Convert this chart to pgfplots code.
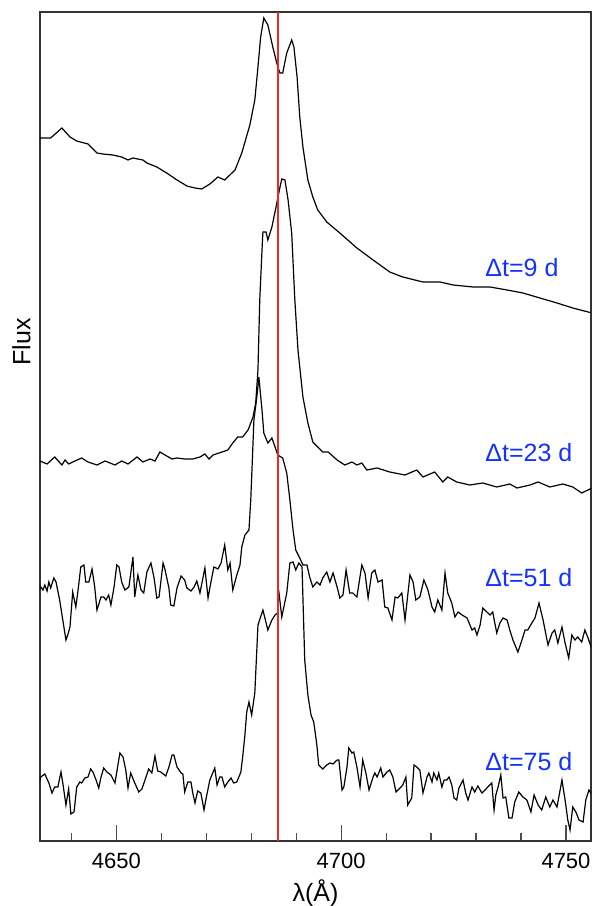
\documentclass[border=0pt]{standalone}
\usepackage{fontspec}
\setmainfont{Liberation Sans}
\usepackage{pgfplots}
\pgfplotsset{compat=1.18}
\definecolor{lblblue}{RGB}{20,50,250}
\definecolor{vline}{RGB}{235,40,40}
\begin{document}
\begin{tikzpicture}
\begin{axis}[
  at={(0,0)}, anchor=south west,
  scale only axis, width=275.5pt, height=414.5pt,
  xmin=4633.03, xmax=4755.56, ymin=0, ymax=829,
  xtick={4650,4700,4750},
  minor xtick={4640,4660,4670,4680,4690,4710,4720,4730,4740},
  ytick=\empty,
  tick pos=left, tick align=inside,
  major tick length=7.8pt, minor tick length=4pt,
  every tick/.style={black!70, line width=0.6pt},
  axis line style={black!80, line width=0.7pt},
  /pgf/number format/assume math mode=true,
  /pgf/number format/1000 sep={},
  xticklabel style={font=\fontsize{11}{13}\selectfont, anchor=base, yshift=-13.5pt},
  xlabel={λ(Å)}, ylabel={Flux},
  label style={font=\fontsize{12.5}{15}\selectfont},
  xlabel style={at={(axis description cs:0.5,0)}, anchor=base, yshift=-30.5pt},
  ylabel style={at={(axis description cs:0,0.602)}, anchor=base, yshift=4.8pt},
  clip=true,
]
% Delta t = 9 d
\addplot[black, line width=0.6pt] coordinates {
(4633.0,703)(4635.4,703)(4637.9,713)(4639.7,704)(4641.2,700)(4643.7,697)(4645.7,688)(4647.0,687)(4649.2,686)(4651.2,684)(4652.6,681)(4653.7,683)(4654.8,682)(4655.9,681)(4656.8,678)(4659.0,674)(4661.2,668)(4663.5,661)(4665.7,655)(4667.5,653)(4669.0,652)(4670.8,657)(4672.6,664)(4674.1,661)(4676.4,671)(4677.9,688)(4679.7,716)(4680.8,741)(4681.5,774)(4682.1,804)(4682.8,823)(4683.7,816)(4684.8,794)(4685.9,774)(4686.4,768)(4687.0,768)(4687.9,788)(4689.0,801)(4689.5,794)(4690.2,764)(4690.8,724)(4691.5,694)(4692.6,661)(4693.7,644)(4694.8,631)(4696.8,619)(4699.7,608)(4703.5,593)(4707.1,581)(4710.8,569)(4713.7,564)(4718.2,559)(4722.0,559)(4724.9,556)(4729.3,554)(4733.1,554)(4736.9,551)(4740.4,548)(4744.2,543)(4748.0,538)(4751.5,533)(4755.8,528)
};
% Delta t = 23 d
\addplot[black, line width=0.6pt] coordinates {
(4633.0,380)(4634.6,377)(4636.3,384)(4637.9,376)(4638.6,381)(4639.4,377)(4640.8,380)(4642.3,383)(4643.7,379)(4645.7,376)(4647.5,380)(4649.7,376)(4651.2,380)(4652.6,377)(4654.6,384)(4655.9,379)(4657.5,382)(4658.6,380)(4659.7,389)(4661.2,385)(4662.4,382)(4663.5,383)(4665.2,382)(4667.0,382)(4668.6,384)(4669.7,387)(4670.6,382)(4671.5,386)(4673.5,389)(4674.8,391)(4675.9,398)(4677.0,404)(4678.1,404)(4679.3,411)(4680.4,424)(4681.0,438)(4681.5,471)(4681.9,541)(4682.4,591)(4682.6,609)(4683.3,609)(4683.7,601)(4684.6,614)(4685.7,638)(4686.4,654)(4686.8,662)(4687.5,661)(4688.2,641)(4689.0,608)(4689.7,541)(4690.4,491)(4691.5,444)(4692.6,418)(4693.7,399)(4694.8,394)(4695.9,389)(4697.1,389)(4699.1,381)(4700.8,376)(4702.4,379)(4703.5,376)(4704.6,378)(4705.7,371)(4708.0,373)(4710.8,369)(4714.2,366)(4716.8,371)(4718.2,364)(4720.8,369)(4722.6,359)(4723.7,364)(4725.7,359)(4728.6,356)(4731.5,358)(4734.6,354)(4737.5,357)(4739.1,353)(4742.0,356)(4743.8,359)(4746.4,354)(4749.3,357)(4751.5,354)(4753.5,348)(4755.8,353)
};
% Delta t = 51 d
\addplot[black, line width=0.6pt] coordinates {
(4633.0,252)(4633.2,254)(4633.7,251)(4634.1,256)(4634.6,250)(4635.0,259)(4635.4,253)(4636.1,263)(4636.6,259)(4637.4,241)(4638.1,221)(4638.8,201)(4639.2,206)(4639.7,214)(4640.3,249)(4641.0,234)(4641.5,251)(4642.1,274)(4642.8,276)(4643.2,259)(4643.9,259)(4644.6,272)(4645.2,254)(4645.7,231)(4646.6,244)(4647.2,244)(4647.7,241)(4648.3,246)(4648.8,236)(4649.5,254)(4650.1,276)(4650.6,274)(4651.2,259)(4651.9,251)(4652.8,254)(4653.7,284)(4654.1,244)(4654.8,266)(4655.5,251)(4656.1,248)(4656.8,269)(4657.7,278)(4658.4,263)(4659.0,243)(4659.5,244)(4660.4,278)(4660.8,272)(4661.7,253)(4662.1,236)(4662.8,235)(4663.5,253)(4664.4,265)(4665.2,261)(4665.7,253)(4666.6,250)(4667.3,254)(4667.9,260)(4668.6,248)(4669.7,273)(4670.4,243)(4671.0,258)(4671.7,274)(4672.6,272)(4673.3,278)(4674.1,296)(4674.8,271)(4675.3,278)(4675.9,251)(4676.8,266)(4677.5,276)(4677.9,294)(4678.6,306)(4679.5,311)(4679.9,341)(4680.6,421)(4681.3,446)(4681.7,464)(4682.4,431)(4682.8,408)(4683.7,398)(4684.6,403)(4685.3,394)(4685.9,386)(4687.0,383)(4687.9,368)(4688.6,341)(4689.3,311)(4689.9,291)(4690.8,283)(4691.5,276)(4692.4,276)(4693.0,264)(4693.7,254)(4694.6,259)(4695.3,256)(4695.9,263)(4696.8,269)(4697.5,259)(4698.2,268)(4699.1,254)(4699.7,243)(4700.4,246)(4701.1,271)(4701.9,248)(4702.6,248)(4703.5,244)(4704.6,276)(4705.3,268)(4706.0,243)(4706.8,268)(4707.5,271)(4708.2,259)(4709.1,261)(4709.7,234)(4710.4,233)(4711.3,221)(4712.0,244)(4712.6,243)(4713.5,248)(4714.2,221)(4715.3,266)(4716.0,259)(4716.6,241)(4717.5,244)(4718.4,261)(4719.3,251)(4720.2,234)(4720.8,229)(4721.5,241)(4722.4,231)(4723.1,268)(4723.7,248)(4724.6,238)(4725.3,224)(4726.0,229)(4726.9,226)(4728.0,223)(4729.1,211)(4729.7,213)(4730.2,206)(4730.9,216)(4731.5,233)(4732.4,229)(4733.1,226)(4733.7,229)(4734.6,208)(4735.3,218)(4736.0,223)(4736.9,221)(4737.5,211)(4738.2,201)(4739.3,189)(4740.2,201)(4740.9,211)(4741.5,211)(4742.4,218)(4743.1,223)(4744.0,238)(4744.9,221)(4746.0,196)(4746.9,208)(4747.5,211)(4748.2,198)(4749.1,214)(4749.8,198)(4750.6,183)(4751.3,206)(4752.0,201)(4752.6,204)(4753.5,199)(4754.2,211)(4754.9,203)(4755.8,191)
};
% Delta t = 75 d
\addplot[black, line width=0.6pt] coordinates {
(4633.0,60)(4633.2,64)(4634.1,67)(4635.0,58)(4635.7,48)(4636.3,54)(4637.0,54)(4637.7,69)(4638.1,58)(4638.8,36)(4639.4,52)(4639.9,27)(4640.6,29)(4641.2,54)(4641.9,59)(4642.3,58)(4643.0,63)(4643.7,64)(4644.3,72)(4644.8,69)(4645.5,61)(4646.1,53)(4646.6,64)(4647.2,73)(4647.9,69)(4648.8,66)(4649.7,58)(4650.8,88)(4651.5,84)(4652.1,71)(4652.6,53)(4653.2,68)(4654.1,58)(4655.0,49)(4655.7,52)(4656.6,64)(4657.2,72)(4657.9,68)(4658.6,85)(4659.2,70)(4659.9,69)(4661.0,65)(4661.7,74)(4662.4,86)(4662.8,86)(4663.5,74)(4664.4,68)(4664.8,67)(4665.2,49)(4665.9,59)(4666.6,59)(4667.0,48)(4667.5,38)(4668.1,50)(4668.8,48)(4669.5,31)(4669.9,41)(4670.8,61)(4671.9,73)(4672.4,56)(4673.0,64)(4673.5,64)(4674.1,54)(4674.8,59)(4675.5,63)(4676.1,58)(4676.8,59)(4677.7,69)(4678.1,84)(4678.6,106)(4679.0,129)(4679.5,139)(4680.1,126)(4680.8,148)(4681.5,216)(4682.6,231)(4683.7,211)(4684.6,221)(4685.3,226)(4685.9,228)(4686.1,251)(4686.8,224)(4687.9,248)(4688.6,278)(4689.3,279)(4689.9,271)(4690.6,278)(4691.3,274)(4691.9,181)(4692.6,146)(4693.3,126)(4693.9,119)(4694.6,96)(4695.0,76)(4695.9,72)(4696.8,76)(4697.5,78)(4698.2,77)(4699.1,81)(4699.5,81)(4700.2,51)(4700.6,54)(4701.3,74)(4701.7,93)(4702.4,88)(4702.8,89)(4703.5,74)(4704.2,54)(4704.8,81)(4705.5,68)(4706.2,51)(4707.1,64)(4707.5,68)(4708.0,64)(4708.8,73)(4709.3,64)(4710.2,69)(4710.8,71)(4711.5,64)(4712.2,49)(4713.1,53)(4713.7,56)(4714.4,64)(4714.8,36)(4715.7,43)(4716.2,76)(4716.8,74)(4717.5,71)(4718.2,48)(4719.1,64)(4719.5,68)(4720.2,59)(4720.6,68)(4721.3,61)(4721.7,68)(4722.4,54)(4722.9,61)(4723.5,61)(4724.0,64)(4724.6,56)(4725.1,43)(4725.7,41)(4726.2,53)(4727.1,61)(4727.7,48)(4728.2,41)(4729.1,54)(4729.7,49)(4730.4,55)(4731.3,48)(4732.0,51)(4732.6,54)(4733.5,58)(4734.0,31)(4734.4,46)(4734.9,54)(4735.5,66)(4736.0,43)(4736.6,44)(4737.3,23)(4738.0,23)(4738.6,39)(4739.5,49)(4740.4,44)(4741.3,41)(4742.2,29)(4742.9,46)(4743.8,36)(4744.6,31)(4745.5,44)(4746.4,34)(4747.1,41)(4748.0,34)(4749.1,61)(4749.8,41)(4750.4,21)(4750.9,11)(4751.5,34)(4752.2,29)(4752.9,21)(4753.8,19)(4754.4,41)(4755.1,51)(4755.8,46)
};
% He II 4686 line
\addplot[vline, line width=0.8pt] coordinates {(4686.0,0)(4686.0,829)};
\begin{scope}[every node/.style={anchor=west, inner sep=0pt, text=lblblue, font=\fontsize{12.5}{15}\selectfont}]
\node at (axis cs:4732.0,573) {Δt=9 d};
\node at (axis cs:4732.0,388) {Δt=23 d};
\node at (axis cs:4732.0,263) {Δt=51 d};
\node at (axis cs:4732.0,79) {Δt=75 d};
\end{scope}
\end{axis}
\pgfresetboundingbox
\path[use as bounding box] (-20pt,-32.5pt) rectangle (276pt,420.5pt);
\end{tikzpicture}
\end{document}
